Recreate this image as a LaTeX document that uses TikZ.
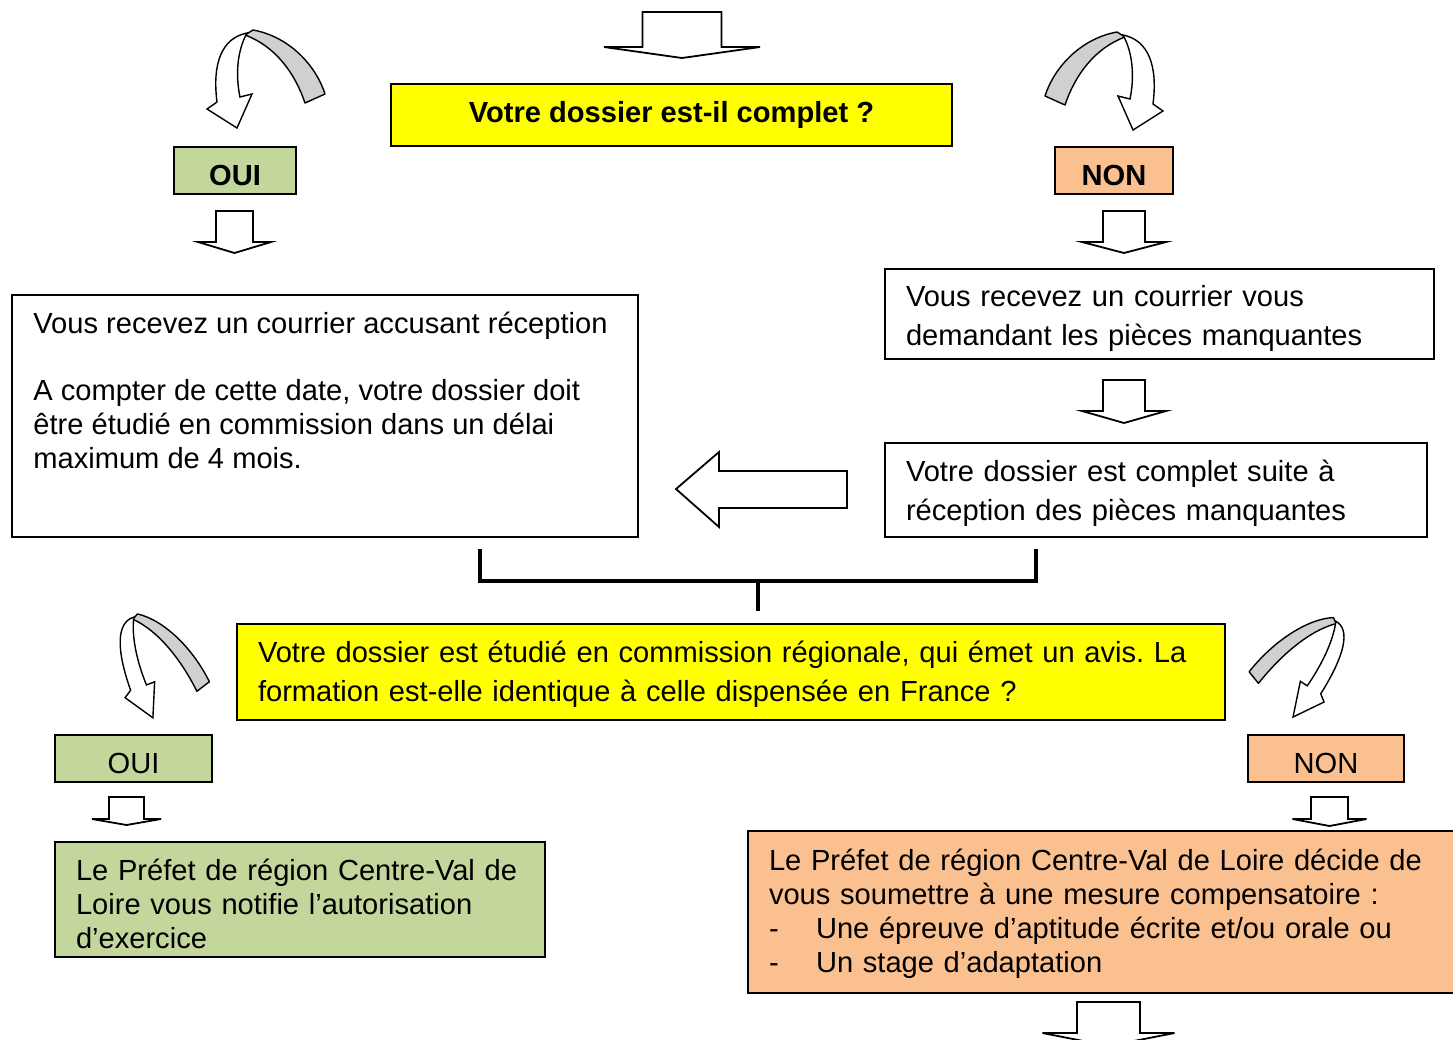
\documentclass[tikz,border=0pt]{standalone}
\usepackage{fontspec}
\setmainfont{Liberation Sans}
\usepackage{xcolor}
\usepackage{tikz}

\definecolor{askyellow}{HTML}{FFFF00}
\definecolor{ouigreen}{HTML}{C3D69B}
\definecolor{nonorange}{HTML}{FAC090}
\definecolor{bandgray}{HTML}{D0D0D0}

\newcommand{\boxfont}{\frenchspacing\fontsize{14.55pt}{17pt}\selectfont}
\newcommand{\widefont}{\frenchspacing\fontsize{14.55pt}{19.5pt}\selectfont}
\newcommand{\topgap}{\rule{0pt}{15pt}}
% block arrow pointing down: centre x, top y, shaft half width, head half width, shoulder y, tip y
\newcommand{\blockdown}[6]{%
  \draw[blockarrow] ({#1-#3},#2) -- ({#1+#3},#2) -- ({#1+#3},#5) -- ({#1+#4},#5)
    -- (#1,#6) -- ({#1-#4},#5) -- ({#1-#3},#5) -- cycle;}

\tikzset{
  box/.style={draw, line width=0.75pt, inner xsep=10.5pt, inner ysep=0pt, align=left, font=\boxfont},
  blockarrow/.style={draw, line width=0.9pt, fill=white, line join=miter},
  bracket/.style={line width=1.75pt, line join=miter},
  curlarrow/.pic={
    \filldraw[fill=bandgray, line width=0.7pt, line join=round] (38,7) -- (46,2)
      .. controls (80,8) and (108,35) .. (118,66) -- (98,75)
      .. controls (88,45) and (68,18) .. (38,7) -- cycle;
    \filldraw[fill=white, line width=0.7pt, line join=miter] (40,5)
      .. controls (15,10) and (5,35) .. (10,74) -- (0,81) -- (30,100) -- (45,66) -- (33,69)
      .. controls (29,50) and (29,25) .. (40,5) -- cycle;
  }
}

\begin{document}
\begin{tikzpicture}[x=0.5pt, y=-0.5pt]
    \useasboundingbox (0,0) rectangle (1453,1040);

    % First question
    \blockdown{682}{12}{39.5}{78}{47}{58}
    \node[box, fill=askyellow, minimum width=280.5pt, minimum height=31pt, align=center, font=\boxfont\bfseries] (ask) at (671.5,115) {Votre dossier est-il complet ?};

    % Curved arrows to the answers
    \pic (askoui) at (207,28) {curlarrow};
    \pic[xscale=-1] (asknon) at (1163,30) {curlarrow};

    \node[box, fill=ouigreen, minimum width=61pt, minimum height=23.5pt, align=center, font=\boxfont\bfseries] (oui) at (235,170.5) {\topgap OUI};
    \node[box, fill=nonorange, minimum width=59pt, minimum height=23.5pt, align=center, font=\boxfont\bfseries] (non) at (1114,170.5) {\topgap NON};

    \blockdown{234.5}{211}{18.5}{36.5}{242}{253}
    \blockdown{1124}{211}{21}{42}{242}{253}

    % Complete file
    \node[box, minimum width=313pt, minimum height=121pt] (recv) at (325,416) {};
    \node[font=\boxfont, align=left, inner sep=0pt, anchor=north west] (recvtxt) at (33,312) {Vous recevez un courrier accusant réception\\[16.5pt]
      A compter de cette date, votre dossier doit\\
      être étudié en commission dans un délai\\
      maximum de 4 mois.};

    % Missing pieces
    \node[box, minimum width=274.5pt, minimum height=45pt, text width=253.5pt, font=\widefont] (miss) at (1159.5,314) {\topgap Vous recevez un courrier vous\\
      demandant les pièces manquantes};
    \blockdown{1124}{380}{21}{42}{411}{423}
    \node[box, minimum width=271pt, minimum height=47pt, text width=250pt, font=\widefont] (compl) at (1156,490) {\rule{0pt}{14pt}Votre dossier est complet suite à\\
      réception des pièces manquantes};

    % Back to the left
    \draw[blockarrow] (847,471) -- (719,471) -- (719,452) -- (676,489) -- (719,527) -- (719,508) -- (847,508) -- cycle;

    % Bracket joining both branches
    \draw[bracket] (480,549) |- (1036,581) -- (1036,549);
    \draw[bracket] (758,581) -- (758,611);

    % Second question
    \node[box, fill=askyellow, minimum width=494pt, minimum height=48pt, text width=473pt, font=\widefont] (exam) at (731,672) {\rule{0pt}{13pt}Votre dossier est étudié en commission régionale, qui émet un avis. La\\
      formation est-elle identique à celle dispensée en France ?};

    \pic[cm={0.75,0,-0.28,1.06,(0,0)}] (examoui) at (102.4,611.8) {curlarrow};
    \pic[cm={-0.702,0.130,0.525,0.994,(0,0)}] (examnon) at (1366.6,621.5) {curlarrow};

    \node[box, fill=ouigreen, minimum width=78.5pt, minimum height=23.5pt, align=center] (oui2) at (133.5,758.5) {\topgap OUI};
    \node[box, fill=nonorange, minimum width=78pt, minimum height=23.5pt, align=center] (non2) at (1326,758.5) {\topgap NON};

    \blockdown{126.5}{797}{17.5}{34.5}{819}{825}
    \blockdown{1329.5}{797}{18.5}{37}{819}{826}

    % Outcomes
    \node[box, fill=ouigreen, minimum width=245pt, minimum height=57.5pt, text width=224pt] (auth) at (300,899.5) {\topgap Le Préfet de région Centre-Val de\\
      Loire vous notifie l’autorisation\\
      d’exercice};
    \node[box, fill=nonorange, minimum width=356pt, minimum height=81pt, text width=335pt] (comp) at (1104,912) {\rule{0pt}{13pt}Le Préfet de région Centre-Val de Loire décide de\\
      vous soumettre à une mesure compensatoire :\\
      \makebox[23.5pt][l]{-}Une épreuve d’aptitude écrite et/ou orale ou\\
      \makebox[23.5pt][l]{-}Un stage d’adaptation};

    \blockdown{1108.5}{1002}{31.5}{66}{1033}{1046}
\end{tikzpicture}
\end{document}
